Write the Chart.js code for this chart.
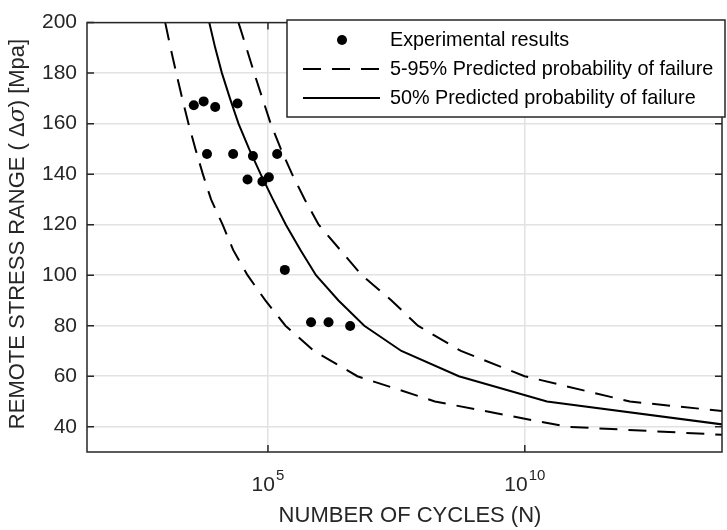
<!DOCTYPE html>
<html>
<head>
<meta charset="utf-8">
<script src="https://cdn.jsdelivr.net/npm/chart.js@4.4.1/dist/chart.umd.min.js"></script>
<style>
  html, body { margin: 0; padding: 0; background: #fff; }
</style>
</head>
<body>
<canvas id="grafico" width="727" height="530"></canvas>
<script>
// Resultados experimentales (ciclos, tension en MPa)
const expCycles = [3.6e3, 5.6e3, 9.4e3, 2.55e4, 6.5e3, 2.1e4, 5.1e4, 1.51e5, 4.0e4, 7.8e4, 1.04e5, 2.13e5, 6.9e5, 1.51e6, 3.98e6];
const expStress = [167.3, 168.8, 166.6, 168.0, 148.0, 148.0, 147.2, 148.0, 137.9, 137.1, 138.8, 102.1, 81.4, 81.4, 79.9];

// Curvas predichas (50%, 95% y 5%)
const stressLevels = [200, 190, 180, 170, 160, 150, 140, 130, 120, 110, 100, 90, 80, 70, 60, 50, 40];
const cycles50 = [7.2e3, 9.4e3, 1.27e4, 1.82e4, 2.67e4, 4.29e4, 7.2e4, 1.25e5, 2.23e5, 4.29e5, 8.6e5, 2.36e6, 7.5e6, 3.96e7, 5.2e8, 2.7e10, 1.55e14];
const cycles95 = [2.67e4, 3.8e4, 5.4e4, 7.8e4, 1.13e5, 1.78e5, 2.95e5, 5.2e5, 9.7e5, 2.55e6, 6.7e6, 2.54e7, 8.3e7, 5.7e8, 9.9e9, 1.11e12, 6.3e16];
const stressLow = [200, 190, 180, 170, 160, 150, 140, 130, 120, 110, 100, 90, 80, 70, 60, 50, 40, 35];
const cycles5 = [1.0e3, 1.27e3, 1.64e3, 2.14e3, 2.84e3, 3.87e3, 5.4e3, 7.8e3, 1.31e4, 2.1e4, 4.0e4, 8.9e4, 2.19e5, 7.9e5, 5.5e6, 1.78e8, 6.6e10, 3.6e15];

// Ticks
const xTickExp = [5, 10];
const xTicks = [1e5, 1e10];
const yTicks = [40, 60, 80, 100, 120, 140, 160, 180, 200];

const FONT = '"Liberation Sans", Arial, Helvetica, sans-serif';
const TXT = '#262626';
const GRID = '#e2e2e2';
const DASH = [18, 11];

const toPts = (xs, ys) => xs.map((v, i) => ({ x: v, y: ys[i] }));

// Marco, ticks interiores, etiquetas 10^n, titulos y leyenda
const marcoYLeyenda = {
  id: 'marcoYLeyenda',
  afterDraw(chart) {
    const { ctx, chartArea: a, scales: { x, y } } = chart;
    ctx.save();

    ctx.strokeStyle = TXT;
    ctx.lineWidth = 1.5;
    ctx.beginPath();
    xTicks.forEach(v => {
      const px = x.getPixelForValue(v);
      ctx.moveTo(px, a.bottom); ctx.lineTo(px, a.bottom - 7);
      ctx.moveTo(px, a.top); ctx.lineTo(px, a.top + 7);
    });
    yTicks.forEach(v => {
      const py = y.getPixelForValue(v);
      ctx.moveTo(a.left, py); ctx.lineTo(a.left + 7, py);
      ctx.moveTo(a.right, py); ctx.lineTo(a.right - 7, py);
    });
    ctx.stroke();
    ctx.strokeRect(a.left, a.top, a.right - a.left, a.bottom - a.top);

    // etiquetas del eje x: 10 con exponente
    ctx.fillStyle = TXT;
    ctx.textBaseline = 'alphabetic';
    ctx.textAlign = 'left';
    xTicks.forEach((v, i) => {
      const px = x.getPixelForValue(v);
      ctx.font = `21px ${FONT}`;
      const wBase = ctx.measureText('10').width;
      ctx.font = `15px ${FONT}`;
      const wExp = ctx.measureText(String(xTickExp[i])).width;
      const x0 = px - (wBase + 1 + wExp) / 2;
      ctx.font = `21px ${FONT}`;
      ctx.fillText('10', x0, 491);
      ctx.font = `15px ${FONT}`;
      ctx.fillText(String(xTickExp[i]), x0 + wBase + 1, 480);
    });

    // titulo del eje x
    ctx.font = `22px ${FONT}`;
    ctx.textAlign = 'center';
    ctx.textBaseline = 'alphabetic';
    ctx.fillText('NUMBER OF CYCLES (N)', 410, 522);
    ctx.textAlign = 'left';

    // titulo del eje y (sigma en cursiva)
    const partes = [
      { t: 'REMOTE STRESS RANGE ( ', f: `22px ${FONT}` },
      { t: 'Δ', f: `22px ${FONT}` },
      { t: 'σ', f: `italic 22px "DejaVu Serif", serif` },
      { t: ') [Mpa]', f: `22px ${FONT}` }
    ];
    let total = 0;
    partes.forEach(p => { ctx.font = p.f; p.w = ctx.measureText(p.t).width; total += p.w; });
    ctx.translate(18, 234);
    ctx.rotate(-Math.PI / 2);
    ctx.textBaseline = 'middle';
    let cx = -total / 2;
    partes.forEach(p => { ctx.font = p.f; ctx.fillText(p.t, cx, 0); cx += p.w; });
    ctx.setTransform(1, 0, 0, 1, 0, 0);

    // leyenda
    const box = { l: 287, t: 20, r: 725, b: 117 };
    ctx.fillStyle = '#fff';
    ctx.fillRect(box.l, box.t, box.r - box.l, box.b - box.t);
    ctx.strokeStyle = TXT;
    ctx.lineWidth = 1.5;
    ctx.strokeRect(box.l, box.t, box.r - box.l, box.b - box.t);

    const filas = [40, 69, 98];
    const orden = [0, 1, 3];
    ctx.font = `19.8px ${FONT}`;
    ctx.textBaseline = 'middle';
    orden.forEach((di, k) => {
      const ds = chart.data.datasets[di];
      const fy = filas[k];
      ctx.strokeStyle = '#000';
      ctx.fillStyle = '#000';
      if (di === 0) {
        ctx.beginPath();
        ctx.arc(342, fy, 5, 0, Math.PI * 2);
        ctx.fill();
      } else {
        ctx.lineWidth = 2;
        ctx.setLineDash(ds.borderDash || []);
        ctx.beginPath();
        ctx.moveTo(303, fy); ctx.lineTo(380, fy);
        ctx.stroke();
        ctx.setLineDash([]);
      }
      ctx.fillText(ds.label, 390, fy + 1);
    });

    ctx.restore();
  }
};

const ctx = document.getElementById('grafico').getContext('2d');
new Chart(ctx, {
  type: 'scatter',
  data: {
    datasets: [
      {
        label: 'Experimental results',
        data: toPts(expCycles, expStress),
        backgroundColor: '#000',
        borderWidth: 0,
        pointRadius: 5
      },
      {
        label: '5-95% Predicted probability of failure',
        data: toPts(cycles5, stressLow),
        showLine: true,
        borderColor: '#000',
        borderWidth: 2,
        borderDash: DASH,
        pointRadius: 0
      },
      {
        label: '95%',
        data: toPts(cycles95, stressLevels),
        showLine: true,
        borderColor: '#000',
        borderWidth: 2,
        borderDash: DASH,
        pointRadius: 0
      },
      {
        label: '50% Predicted probability of failure',
        data: toPts(cycles50, stressLevels),
        showLine: true,
        borderColor: '#000',
        borderWidth: 2,
        pointRadius: 0
      }
    ]
  },
  options: {
    responsive: false,
    animation: false,
    layout: { padding: { top: 14, right: 1, left: 0, bottom: 0 } },
    plugins: {
      legend: { display: false },
      tooltip: { enabled: false }
    },
    scales: {
      x: {
        type: 'logarithmic',
        min: 30,
        max: 6.9e13,
        afterBuildTicks: s => { s.ticks = xTicks.map(v => ({ value: v })); },
        afterFit: s => { s.height = 78; },
        grid: { color: GRID, lineWidth: 1.5, drawTicks: false },
        border: { display: false },
        ticks: { display: false }
      },
      y: {
        min: 30,
        max: 200,
        afterBuildTicks: s => { s.ticks = yTicks.map(v => ({ value: v })); },
        afterFit: s => { s.width = 87; },
        grid: { color: GRID, lineWidth: 1.5, drawTicks: false },
        border: { display: false },
        ticks: { color: TXT, font: { size: 21, family: FONT }, padding: 10 }
      }
    }
  },
  plugins: [marcoYLeyenda]
});
</script>
</body>
</html>
